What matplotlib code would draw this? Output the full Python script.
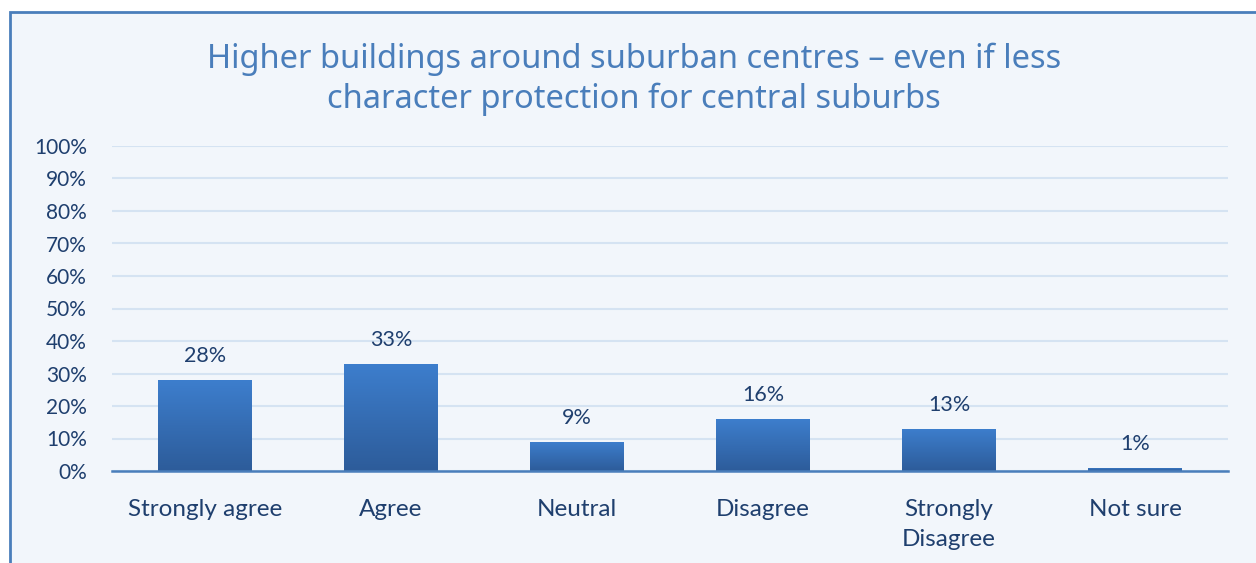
import numpy as np
import matplotlib
import matplotlib.pyplot as plt
import matplotlib.patches as mpatches
from matplotlib.colors import LinearSegmentedColormap

matplotlib.use("Agg")
plt.rcParams["font.family"] = ["Lato", "DejaVu Sans"]

categories = ["Strongly agree", "Agree", "Neutral", "Disagree", "Strongly\nDisagree", "Not sure"]
values = [28, 33, 9, 16, 13, 1]
yticks = list(range(0, 101, 10))
title = "Higher buildings around suburban centres \u2013 even if less\ncharacter protection for central suburbs"

BG = "#f2f6fb"
TEXT = "#1f3f6e"
TITLE_COL = "#4a7ebb"
GRID = "#d5e3f2"
grad = LinearSegmentedColormap.from_list("bar", ["#2d5c9a", "#3d7ecd"])

fig = plt.figure(figsize=(12.56, 5.63), dpi=100, facecolor="white")
# chart area with a blue frame on left/top (cropped on right/bottom)
fig.patches.append(mpatches.Rectangle((10 / 1256, -0.1), 1.2, (563 - 12) / 563 + 0.1,
                                      transform=fig.transFigure, facecolor=BG,
                                      edgecolor="#4a7ebb", linewidth=2, zorder=-10))

ax = fig.add_axes([112 / 1256, (563 - 471) / 563, (1228 - 112) / 1256, (471 - 146) / 563])
ax.set_facecolor("none")

x = np.arange(len(categories))
bars = ax.bar(x, values, width=0.505, color="#3670b8", zorder=2)
for b, v in zip(bars, values):
    x0, y0 = b.get_x(), b.get_y()
    w, h = b.get_width(), b.get_height()
    im = ax.imshow(np.linspace(1, 0, 100).reshape(-1, 1), cmap=grad, aspect="auto",
                   extent=[x0, x0 + w, y0, y0 + h], zorder=3)
    im.set_clip_path(b)
    ax.text(x0 + w / 2, h + 4.2, f"{v}%", ha="center", va="bottom",
            fontsize=15.5, color=TEXT, zorder=4)

ax.set_xlim(-0.5, len(categories) - 0.5)
ax.set_ylim(0, 100)
ax.set_yticks(yticks)
ax.set_yticklabels([f"{t}%" for t in yticks], fontsize=15, color=TEXT)
ax.set_xticks(x)
ax.set_xticklabels(categories, fontsize=17.5, color=TEXT, linespacing=1.55)
ax.tick_params(axis="both", length=0)
ax.tick_params(axis="y", pad=18)
ax.tick_params(axis="x", pad=20)
ax.grid(axis="y", color=GRID, linewidth=1.5, zorder=0)
ax.set_axisbelow(True)
for s in ["top", "right", "left"]:
    ax.spines[s].set_visible(False)
ax.spines["bottom"].set_color("#4a7ebb")
ax.spines["bottom"].set_linewidth(1.8)
ax.spines["bottom"].set_zorder(5)

fig.text(634 / 1256, 1 - 79 / 563, title, ha="center", va="center",
         fontsize=23.5, color=TITLE_COL, family=["Noto Sans", "DejaVu Sans"],
         fontweight="light", linespacing=1.25)

fig.savefig("out.png", dpi=100, facecolor="white")
